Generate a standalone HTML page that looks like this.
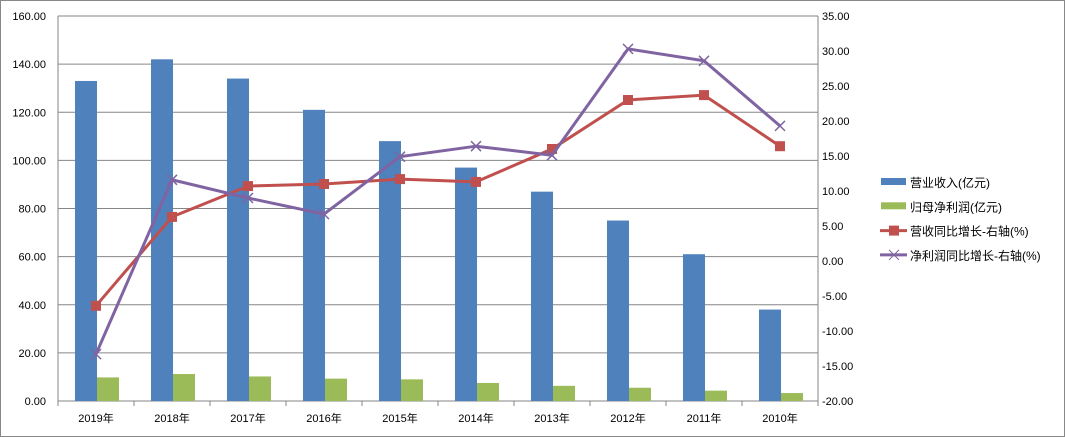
<!DOCTYPE html>
<html><head><meta charset="utf-8"><style>
html,body{margin:0;padding:0;background:#fff;}
svg{display:block;font-family:"Liberation Sans","Noto Sans CJK SC",sans-serif;}
</style></head><body>
<svg id="c" width="1065" height="437">
<rect x="0.5" y="0.5" width="1064" height="436" fill="#fff" stroke="#888"/>
</svg>
<script>
const categories=["2019年","2018年","2017年","2016年","2015年","2014年","2013年","2012年","2011年","2010年"];
const revenue=[133,142,134,121,108,97,87,75,61,38];
const netProfit=[9.8,11.2,10.2,9.3,9.0,7.5,6.3,5.5,4.3,3.3];
const revGrowth=[-6.4,6.3,10.7,11.0,11.7,11.3,16.0,23.0,23.7,16.4];
const profitGrowth=[-13.3,11.6,9.0,6.7,14.9,16.4,15.1,30.3,28.6,19.3];
const leftTicks=[0,20,40,60,80,100,120,140,160];
const rightTicks=[-20,-15,-10,-5,0,5,10,15,20,25,30,35];

const NS="http://www.w3.org/2000/svg";
const svg=document.getElementById('c');
const L=58,R=818,T=16,B=401;
const cw=(R-L)/categories.length;
const yl=v=>B-(v-0)/(160-0)*(B-T);
const yr=v=>B-(v+20)/55*(B-T);
const xc=i=>L+cw*(i+0.5);
function mk(t,a,p){const e=document.createElementNS(NS,t);for(const k in a)e.setAttribute(k,a[k]);(p||svg).appendChild(e);return e;}

for(const v of leftTicks){
  const g=mk('line',{x1:L,x2:R,y1:yl(v),y2:yl(v),stroke:'#868686','stroke-width':1});
  
  
  const t=mk('text',{x:L-12,y:yl(v)+4,'text-anchor':'end','font-size':11,fill:'#000'});
  t.textContent=v.toFixed(2);
  
  
}
for(const v of rightTicks){
  const t=mk('text',{x:R+4,y:yr(v)+4,'font-size':11,fill:'#000'});
  t.textContent=v.toFixed(2);
  
  
}
mk('line',{x1:L,x2:L,y1:T,y2:B,stroke:'#868686'});
mk('line',{x1:R,x2:R,y1:T,y2:B,stroke:'#868686'});
categories.forEach((c,i)=>{
  const tk=mk('line',{x1:L+cw*i,x2:L+cw*i,y1:B,y2:B+5,stroke:'#868686'});
  const b1=mk('rect',{x:L+cw*i+17,y:yl(revenue[i]),width:22,height:B-yl(revenue[i]),fill:'#4f81bd'});
  
  
  const b2=mk('rect',{x:L+cw*i+39,y:yl(netProfit[i]),width:22,height:B-yl(netProfit[i]),fill:'#9bbb59'});
  
  
  const t=mk('text',{x:xc(i),y:B+21,'text-anchor':'middle','font-size':11,fill:'#000'});
  t.textContent=c;
  
  
});
mk('line',{x1:R,x2:R,y1:B,y2:B+5,stroke:'#868686'});
const p1=mk('polyline',{points:revGrowth.map((v,i)=>xc(i)+','+yr(v)).join(' '),fill:'none',stroke:'#c0504d','stroke-width':3});


revGrowth.forEach((v,i)=>{
  const m=mk('rect',{x:xc(i)-5,y:yr(v)-5,width:10,height:10,fill:'#c0504d'});
  
  
});
const p2=mk('polyline',{points:profitGrowth.map((v,i)=>xc(i)+','+yr(v)).join(' '),fill:'none',stroke:'#8064a2','stroke-width':3});


profitGrowth.forEach((v,i)=>{
  const x=xc(i),y=yr(v);
  const m=mk('path',{d:`M${x-5},${y-5}L${x+5},${y+5}M${x-5},${y+5}L${x+5},${y-5}`,stroke:'#8064a2','stroke-width':1.5});
  
  
});
// legend
const leg=[["营业收入(亿元)",'bar','#4f81bd'],["归母净利润(亿元)",'bar','#9bbb59'],["营收同比增长-右轴(%)",'sq','#c0504d'],["净利润同比增长-右轴(%)",'x','#8064a2']];
leg.forEach((l,i)=>{
  const y=182+i*24.3;
  if(l[1]==='bar'){mk('rect',{x:881,y:y-4,width:25,height:7,fill:l[2]});}
  else{
    mk('line',{x1:880,x2:907,y1:y,y2:y,stroke:l[2],'stroke-width':3});
    if(l[1]==='sq')mk('rect',{x:889,y:y-5,width:10,height:10,fill:l[2]});
    else mk('path',{d:`M${889},${y-5}L${899},${y+5}M${889},${y+5}L${899},${y-5}`,stroke:l[2],'stroke-width':1});
  }
  const t=mk('text',{x:910,y:y+5,'font-size':12,fill:'#000'});
  t.textContent=l[0];
  
  
});
</script>
</body></html>
